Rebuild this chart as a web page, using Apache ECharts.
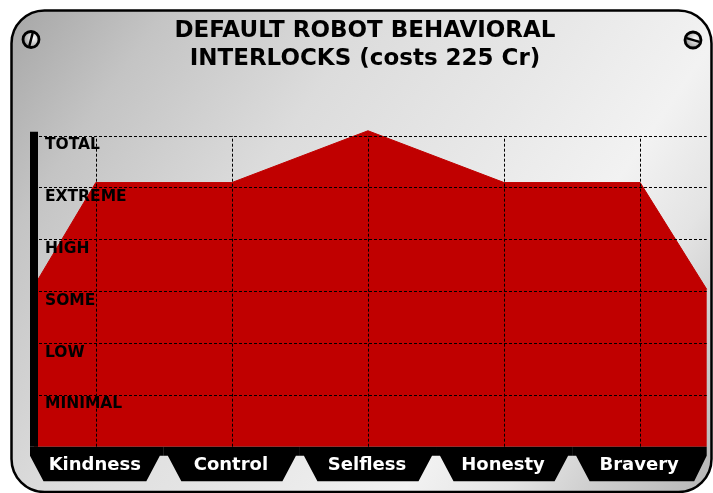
<!DOCTYPE html>
<html><head><meta charset="utf-8">
<script src="https://cdn.jsdelivr.net/npm/echarts@6/dist/echarts.min.js"></script>
<style>html,body{margin:0;padding:0;background:#fff}#c{width:713px;height:493px}</style>
</head><body><div id="c"></div>
<script>
// ---- data ----
const categories = ['Kindness', 'Control', 'Selfless', 'Honesty', 'Bravery'];
const values = [5.1, 5.1, 6.1, 5.1, 5.1];
const levelLabels = ['MINIMAL', 'LOW', 'SOME', 'HIGH', 'EXTREME', 'TOTAL'];
const leftEdgeValue = 3.1;
const rightEdgeValue = 3.04;
const titleText = 'DEFAULT ROBOT BEHAVIORAL\nINTERLOCKS (costs 225 Cr)';

// ---- layout / style ----
const X_MIN = -0.454, X_MAX = 4.489, Y_MAX = 6.08;
const FONT = 'DejaVu Sans';
const RED = '#c00000';

const areaData = [[X_MIN, leftEdgeValue]]
  .concat(values.map((v, i) => [i, v]))
  .concat([[X_MAX, rightEdgeValue]]);

const chart = echarts.init(document.getElementById('c'), null, { renderer: 'canvas' });

function screw(cx, cy, p1, p2) {
  return {
    type: 'group', z: -5,
    children: [
      { type: 'circle', shape: { cx: cx, cy: cy, r: 8 },
        style: { fill: new echarts.graphic.RadialGradient(0.62, 0.42, 0.75, [
          { offset: 0, color: '#ffffff' }, { offset: 0.55, color: '#b4b4b4' }, { offset: 1, color: '#505050' }]),
          stroke: '#000', lineWidth: 2.8 } },
      { type: 'line', shape: { x1: cx + p1[0], y1: cy + p1[1], x2: cx + p2[0], y2: cy + p2[1] },
        style: { stroke: '#000', lineWidth: 2.5 } }
    ]
  };
}

const option = {
  animation: false,
  backgroundColor: '#ffffff',
  graphic: [
    { type: 'rect', z: -10, shape: { x: 11.5, y: 10.5, width: 700, height: 481.5, r: 33 },
      style: { fill: new echarts.graphic.LinearGradient(0, 0, 1, 1, [
        { offset: 0, color: '#a6a6a6' }, { offset: 0.15, color: '#c4c4c4' },
        { offset: 0.35, color: '#dcdcdc' }, { offset: 0.55, color: '#e8e8e8' },
        { offset: 0.7, color: '#f2f2f2' }, { offset: 0.8, color: '#e4e4e4' },
        { offset: 0.88, color: '#cecece' }, { offset: 1, color: '#b6b6b6' }]),
        stroke: '#000', lineWidth: 2.5 } },
    screw(31, 39.5, [1.7, -6.5], [-1.7, 6.5]),
    screw(693, 40, [-6.5, -1.9], [6.5, 1.9]),
    { type: 'text', z: 10, x: 365, y: 44.9,
      style: { text: titleText, font: 'bold 23px "DejaVu Sans"', fill: '#000',
        align: 'center', verticalAlign: 'middle', lineHeight: 28.7 } }
  ],
  grid: { left: 34, right: 6.3, top: 131.8, bottom: 46.3, containLabel: false, outerBoundsMode: 'none' },
  xAxis: { type: 'value', min: X_MIN, max: X_MAX, show: false },
  yAxis: {
    type: 'value', min: 0, max: Y_MAX, interval: 1, z: 5,
    axisLine: { show: true, onZero: false, lineStyle: { color: '#000', width: 8, cap: 'butt' } },
    axisTick: { show: false },
    splitLine: { show: true, showMinLine: false, showMaxLine: false,
      lineStyle: { color: '#000', type: [3, 2], width: 1 } },
    axisLabel: {
      inside: true, margin: 11, align: 'left', verticalAlign: 'top',
      showMinLabel: false, showMaxLabel: false,
      color: '#000', fontFamily: FONT, fontWeight: 'bold', fontSize: 15.5,
      lineHeight: 16, padding: [1.5, 0, 0, 0],
      formatter: function (v) {
        const r = Math.round(v);
        if (Math.abs(v - r) > 1e-6 || r < 1) return '';
        return levelLabels[r - 1] || '';
      }
    }
  },
  series: [
    {
      type: 'line', data: areaData, symbol: 'none', clip: false, z: 2,
      lineStyle: { color: RED, width: 1 },
      areaStyle: { color: RED, opacity: 1 },
      markLine: {
        silent: true, symbol: ['none', 'none'], animation: false,
        label: { show: false },
        lineStyle: { color: '#000', type: [3, 2], width: 1 },
        emphasis: { disabled: true },
        data: categories.map((c, i) => [{ coord: [i, 0] }, { coord: [i, levelLabels.length] }])
      }
    },
    {
      type: 'custom', clip: false, z: 6, silent: true,
      data: categories.map((c, i) => [i, 0]),
      renderItem: function (params, api) {
        const i = api.value(0);
        const n = categories.length;
        const cs = params.coordSys;
        const base = api.coord([i, 0]);
        const cx = base[0], yb = base[1];
        const L = i === 0 ? cs.x - 4 : api.coord([i - 0.5, 0])[0];
        const R = i === n - 1 ? cs.x + cs.width : api.coord([i + 0.5, 0])[0];
        const y1 = yb + 9, y2 = yb + 34.5;
        const pts = [[L, yb], [R, yb]];
        if (i === n - 1) { pts.push([R, y1], [R - 12.5, y2]); }
        else { pts.push([R, y1], [R - 4, y1], [R - 17.5, y2]); }
        if (i === 0) { pts.push([L + 13.5, y2], [L, y1]); }
        else { pts.push([L + 17.5, y2], [L + 4, y1], [L, y1]); }
        return {
          type: 'group',
          children: [
            { type: 'polygon', shape: { points: pts }, style: { fill: '#000' } },
            { type: 'text', x: cx - 1, y: yb + 18.5,
              style: { text: categories[i], font: 'bold 18px "DejaVu Sans"', fill: '#fff',
                align: 'center', verticalAlign: 'middle' } }
          ]
        };
      }
    }
  ]
};
chart.setOption(option);
</script>
</body></html>
